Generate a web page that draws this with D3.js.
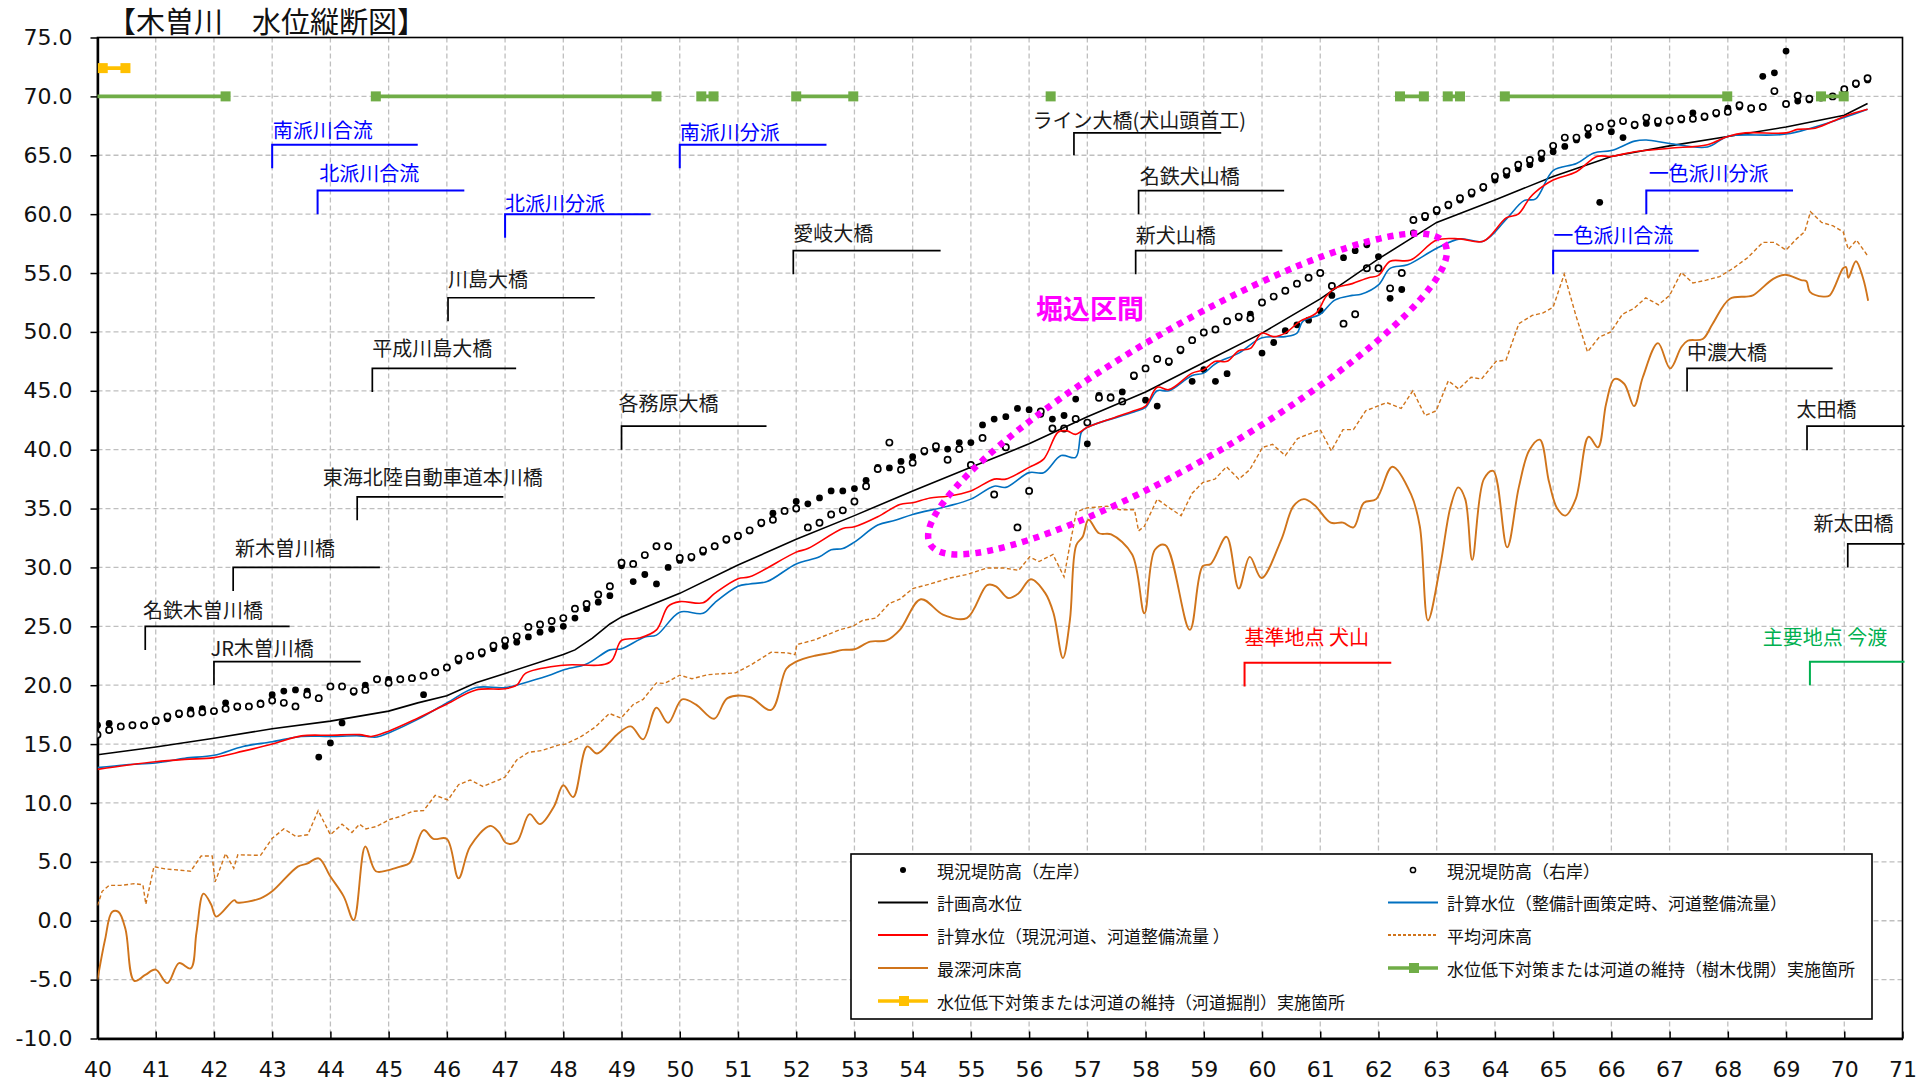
<!DOCTYPE html>
<html lang="ja">
<head>
<meta charset="utf-8">
<title>木曽川 水位縦断図</title>
<script src="https://cdn.jsdelivr.net/npm/d3@7"></script>
<style>
  html, body { margin: 0; padding: 0; background: #fff; }
  svg { display: block; font-family: "Noto Sans CJK JP", "Noto Sans", sans-serif; }
</style>
</head>
<body>
<svg id="chart" width="1921" height="1085"></svg>
<script>
// ---------------- data (distance km, elevation T.P.m) ----------------
const xTicks = d3.range(40, 72, 1);
const yTicks = d3.range(-10, 80, 5);

// 現況堤防高（左岸）
const leftBank = [
  [40.0,16.6],[40.2,16.75],[40.4,16.5],[40.6,16.6],[40.8,16.6],[41.0,16.9],[41.2,17.15],[41.4,17.5],[41.6,17.9],[41.8,18.0],
  [42.0,17.8],[42.2,18.5],[42.4,18.1],[42.6,18.2],[42.8,18.5],[43.0,19.2],[43.2,19.5],[43.4,19.6],[43.6,19.5],[43.8,13.9],
  [44.0,15.1],[44.2,16.8],[44.4,19.4],[44.6,20.0],[44.8,20.5],[45.0,20.5],[45.2,20.5],[45.4,20.6],[45.6,19.2],[45.8,21.1],
  [46.0,21.5],[46.2,22.05],[46.4,22.45],[46.6,22.65],[46.8,23.1],[47.0,23.3],[47.2,23.65],[47.4,24.1],[47.6,24.5],[47.8,24.75],
  [48.0,25.0],[48.2,25.7],[48.4,26.5],[48.6,27.05],[48.8,27.6],[49.0,30.15],[49.2,28.8],[49.4,29.4],[49.6,28.6],[49.8,30.0],
  [50.0,30.6],[50.2,30.8],[50.4,31.3],[50.6,31.8],[50.8,32.3],[51.0,32.6],[51.2,33.1],[51.4,33.7],[51.6,34.6],[51.8,34.8],
  [52.0,35.6],[52.2,35.4],[52.4,35.9],[52.6,36.5],[52.8,36.5],[53.0,36.7],[53.2,37.4],[53.4,38.5],[53.6,38.45],[53.8,39.0],
  [54.0,39.4],[54.2,39.8],[54.4,40.05],[54.6,40.05],[54.8,40.6],[55.0,40.6],[55.2,42.1],[55.4,42.6],[55.6,42.8],[55.8,43.5],
  [56.0,43.4],[56.2,43.0],[56.4,42.6],[56.6,42.9],[56.8,44.3],[57.0,40.5],[57.2,44.6],[57.4,44.5],[57.6,44.9],[57.8,46.2],
  [58.0,44.2],[58.2,43.7],[58.4,47.4],[58.6,48.4],[58.8,45.8],[59.0,46.8],[59.2,45.8],[59.4,46.45],[59.6,51.2],[59.8,51.5],
  [60.0,48.2],[60.2,49.1],[60.4,50.1],[60.6,50.6],[60.8,51.0],[61.0,51.8],[61.2,53.1],[61.4,56.3],[61.6,56.9],[61.8,57.4],
  [62.0,56.4],[62.2,52.85],[62.4,53.6],[62.6,58.4],[62.8,59.7],[63.0,60.2],[63.2,60.7],[63.4,61.2],[63.6,61.7],[63.8,62.2],
  [64.0,62.9],[64.2,63.3],[64.4,63.85],[64.6,64.2],[64.8,64.7],[65.0,65.3],[65.2,65.75],[65.4,66.3],[65.6,66.7],[65.8,61.0],
  [66.0,67.0],[66.2,66.5],[66.4,67.5],[66.6,67.7],[66.8,67.7],[67.0,67.9],[67.2,68.0],[67.4,68.6],[67.6,68.2],[67.8,68.5],
  [68.0,69.0],[68.2,69.1],[68.4,68.9],[68.6,71.7],[68.8,72.0],[69.0,73.85],[69.2,69.6],[69.4,69.7],[69.6,69.9],[69.8,70.0],
  [70.0,70.5],[70.2,71.0],[70.4,71.4]
];

// 現況堤防高（右岸）
const rightBank = [
  [40.0,15.8],[40.2,16.2],[40.4,16.5],[40.6,16.6],[40.8,16.6],[41.0,17.0],[41.2,17.35],[41.4,17.6],[41.6,17.6],[41.8,17.7],
  [42.0,17.8],[42.2,18.0],[42.4,18.2],[42.6,18.2],[42.8,18.4],[43.0,18.7],[43.2,18.5],[43.4,18.2],[43.6,19.2],[43.8,18.9],
  [44.0,19.9],[44.2,19.9],[44.4,19.5],[44.6,19.6],[44.8,20.5],[45.0,20.2],[45.2,20.5],[45.4,20.6],[45.6,20.8],[45.8,21.1],
  [46.0,21.5],[46.2,22.25],[46.4,22.5],[46.6,22.8],[46.8,23.35],[47.0,23.8],[47.2,24.15],[47.4,24.95],[47.6,25.15],[47.8,25.45],
  [48.0,25.7],[48.2,26.5],[48.4,26.9],[48.6,27.7],[48.8,28.4],[49.0,30.4],[49.2,30.3],[49.4,31.05],[49.6,31.8],[49.8,31.8],
  [50.0,30.8],[50.2,30.9],[50.4,31.45],[50.6,31.8],[50.8,32.4],[51.0,32.7],[51.2,33.15],[51.4,33.8],[51.6,34.05],[51.8,34.8],
  [52.0,35.0],[52.2,33.4],[52.4,33.8],[52.6,34.5],[52.8,34.85],[53.0,35.6],[53.2,36.9],[53.4,38.35],[53.6,40.6],[53.8,38.3],
  [54.0,38.9],[54.2,39.9],[54.4,40.3],[54.6,39.15],[54.8,40.05],[55.0,38.7],[55.2,41.0],[55.4,36.2],[55.6,40.2],[55.8,33.4],
  [56.0,36.5],[56.2,43.25],[56.4,41.8],[56.6,41.8],[56.8,42.6],[57.0,42.3],[57.2,44.4],[57.4,44.4],[57.6,44.1],[57.8,46.3],
  [58.0,46.9],[58.2,47.7],[58.4,47.5],[58.6,48.5],[58.8,49.3],[59.0,49.95],[59.2,50.2],[59.4,50.9],[59.6,51.3],[59.8,51.15],
  [60.0,52.5],[60.2,53.0],[60.4,53.5],[60.6,54.1],[60.8,54.6],[61.0,55.0],[61.2,53.9],[61.4,50.7],[61.6,51.5],[61.8,55.4],
  [62.0,55.4],[62.2,53.7],[62.4,55.0],[62.6,59.5],[62.8,59.85],[63.0,60.35],[63.2,60.8],[63.4,61.35],[63.6,61.85],[63.8,62.3],
  [64.0,63.2],[64.2,63.65],[64.4,64.2],[64.6,64.6],[64.8,65.15],[65.0,65.8],[65.2,66.5],[65.4,66.5],[65.6,67.3],[65.8,67.4],
  [66.0,67.7],[66.2,67.9],[66.4,67.6],[66.6,68.2],[66.8,67.9],[67.0,67.95],[67.2,68.1],[67.4,68.1],[67.6,68.3],[67.8,68.6],
  [68.0,68.7],[68.2,69.25],[68.4,69.0],[68.6,69.1],[68.8,70.45],[69.0,69.35],[69.2,70.05],[69.4,69.8],[69.6,69.9],[69.8,70.0],
  [70.0,70.6],[70.2,71.1],[70.4,71.55]
];

// 計画高水位
const planHWL = [
  [40,14.1],[41,14.75],[42,15.5],[43,16.3],[44,16.95],[45,17.8],[45.5,18.5],[46,19.1],[46.5,20.2],[47,21.0],
  [48,22.6],[48.2,23.0],[48.5,24.0],[48.8,25.2],[49,25.8],[50,27.8],[51,30.2],[52,32.4],[53,34.4],[54,36.5],
  [55,38.5],[56,40.5],[57,42.8],[58,44.9],[59,47.4],[60,49.9],[61,52.8],[62,56.2],[63,59.3],[64,61.2],
  [65,63.2],[66,64.9],[67,65.8],[68,66.6],[69,67.4],[70,68.4],[70.4,69.4]
];

// 計算水位（整備計画策定時、河道整備流量）
const calcPlanWL = [
  [40.0,13.0],[40.5,13.25],[41.0,13.4],[41.5,13.8],[42.0,14.05],[42.5,14.8],[43.0,15.2],[43.5,15.65],[44.0,15.65],[44.5,15.7],
  [44.8,15.6],[45.0,15.95],[45.5,17.1],[46.0,18.5],[46.5,19.8],[47.0,19.8],[47.4,20.3],[47.8,20.9],[48.0,21.3],[48.4,21.8],
  [48.8,23.0],[49.0,23.1],[49.4,24.1],[49.6,24.25],[50.0,26.2],[50.4,26.1],[50.6,27.0],[51.0,28.4],[51.2,28.6],[51.5,28.8],
  [52.0,30.3],[52.4,30.9],[52.6,31.5],[52.8,31.6],[53.0,32.15],[53.4,33.6],[53.7,34.0],[54.0,34.5],[54.6,35.2],[55.0,35.8],
  [55.4,36.9],[55.6,36.8],[56.0,38.05],[56.25,38.05],[56.55,39.5],[56.8,39.35],[56.9,41.5],[57.0,41.9],[57.8,43.2],[58.0,43.6],
  [58.2,45.0],[58.4,45.0],[58.8,46.3],[59.0,46.5],[59.2,47.3],[59.6,48.2],[60.0,49.5],[60.4,49.6],[60.6,49.9],[60.7,50.9],
  [61.0,51.5],[61.25,52.7],[61.55,53.1],[61.7,53.2],[62.0,54.0],[62.2,55.4],[62.5,55.7],[63.0,57.1],[63.4,57.9],[63.8,57.7],
  [64.2,59.6],[64.5,61.15],[64.7,61.3],[65.0,63.7],[65.4,64.3],[65.7,65.2],[66.0,65.4],[66.4,66.2],[66.6,66.3],[67.0,66.0],
  [67.65,65.7],[68.0,66.6],[69.0,66.8],[70.0,68.2],[70.4,68.9]
];

// 計算水位（現況河道、河道整備流量）
const calcNowWL = [
  [40.0,12.85],[40.5,13.2],[41.0,13.5],[41.5,13.7],[42.0,13.85],[42.5,14.4],[43.0,15.0],[43.5,15.7],[44.0,15.75],[44.5,15.8],
  [44.7,15.65],[45.0,16.1],[45.5,17.2],[46.0,18.4],[46.5,19.6],[47.0,19.7],[47.2,20.0],[47.35,21.0],[48.0,21.7],[48.8,21.95],
  [49.0,23.8],[49.3,24.0],[49.6,24.7],[49.8,26.7],[50.0,27.1],[50.4,27.0],[50.6,27.8],[51.0,29.05],[51.2,29.2],[52.0,31.3],
  [52.2,31.6],[52.8,33.3],[53.0,33.45],[53.4,34.3],[53.78,35.35],[54.0,35.5],[54.3,35.9],[54.6,36.05],[55.0,36.5],[55.4,37.5],
  [55.6,37.5],[56.0,38.5],[56.25,39.2],[56.5,41.5],[56.65,41.6],[56.8,41.3],[57.0,41.9],[57.45,42.7],[57.8,43.3],[58.0,43.7],
  [58.2,45.3],[58.4,45.1],[58.8,46.5],[59.0,46.8],[59.2,47.5],[59.4,47.5],[59.6,48.4],[59.8,48.6],[60.0,49.9],[60.2,49.6],
  [60.4,49.9],[60.65,50.9],[60.93,51.6],[61.1,53.0],[61.25,53.7],[61.55,54.1],[61.83,54.6],[62.0,54.8],[62.2,56.0],[62.55,56.1],
  [63.0,57.8],[63.4,57.9],[63.8,57.7],[64.2,59.7],[64.4,60.0],[64.6,61.4],[64.7,61.9],[65.0,62.9],[65.4,63.6],[65.75,64.9],
  [66.0,64.9],[66.4,65.3],[67.0,65.6],[67.65,65.9],[68.0,66.6],[68.3,66.9],[69.0,66.9],[69.2,67.2],[69.5,67.3],[70.0,68.3],
  [70.4,68.9]
];

// 平均河床高
const meanBed = [
  [40.0,1.3],[40.08,2.5],[40.2,3.0],[40.4,3.0],[40.63,3.15],[40.78,3.05],[40.83,1.4],[40.97,4.6],[41.16,4.4],[41.4,4.3],
  [41.6,4.2],[41.78,5.5],[41.97,5.5],[42.02,3.3],[42.2,5.7],[42.34,4.45],[42.41,5.6],[42.8,5.55],[43.0,7.0],[43.2,7.8],
  [43.41,7.15],[43.61,7.3],[43.79,9.35],[44.0,7.3],[44.2,8.2],[44.37,7.5],[44.5,8.2],[44.61,7.8],[44.79,8.0],[45.02,8.6],
  [45.2,8.85],[45.42,9.3],[45.6,9.35],[45.8,10.65],[46.02,10.25],[46.2,11.55],[46.4,11.95],[46.62,11.4],[46.89,11.95],[47.0,12.2],
  [47.2,13.65],[47.4,14.3],[47.63,14.45],[47.94,14.95],[48.04,15.0],[48.31,15.65],[48.55,16.45],[48.79,17.6],[48.99,17.2],[49.2,18.35],
  [49.37,18.8],[49.6,20.2],[49.74,20.15],[50.0,20.85],[50.21,20.55],[50.49,20.9],[50.96,21.05],[51.23,21.75],[51.57,22.8],[51.84,22.75],
  [51.98,22.6],[52.01,23.45],[52.32,23.85],[52.74,24.7],[52.97,25.0],[53.14,25.5],[53.37,25.7],[53.6,26.95],[53.78,27.3],[54.0,28.2],
  [54.3,28.6],[54.64,29.1],[54.93,29.4],[55.28,29.95],[55.57,29.95],[55.82,29.75],[56.01,30.9],[56.17,30.5],[56.41,31.1],[56.6,29.2],
  [56.7,31.9],[56.81,34.7],[56.99,35.05],[57.34,35.2],[57.56,34.9],[57.81,34.9],[57.88,33.1],[57.98,33.5],[58.2,35.8],[58.41,35.05],
  [58.61,34.4],[58.8,36.3],[58.98,37.2],[59.19,37.5],[59.39,38.55],[59.6,37.5],[59.79,38.3],[60.01,40.2],[60.18,40.45],[60.4,39.5],
  [60.61,40.95],[61.0,41.7],[61.19,39.9],[61.39,41.7],[61.57,41.7],[61.78,43.3],[62.14,44.0],[62.39,43.5],[62.59,45.0],[62.8,42.9],
  [62.99,43.3],[63.2,45.85],[63.38,45.15],[63.59,46.15],[63.77,46.0],[64.02,47.5],[64.19,47.6],[64.41,50.7],[64.64,51.4],[64.82,51.6],
  [65.0,52.1],[65.19,54.9],[65.39,51.4],[65.59,48.3],[65.79,49.55],[65.99,50.0],[66.19,51.5],[66.39,52.0],[66.59,52.9],[66.81,52.3],
  [67.0,53.1],[67.2,55.05],[67.4,54.15],[67.63,54.4],[67.86,54.7],[68.09,55.4],[68.34,56.3],[68.6,57.6],[68.8,57.6],[69.0,56.95],
  [69.18,57.9],[69.32,58.5],[69.42,60.2],[69.61,59.3],[69.81,59.0],[69.98,58.5],[70.07,57.0],[70.21,57.8],[70.41,56.4]
];

// 最深河床高
const deepestBed = [
  [40.0,-5.0],[40.13,-1.6],[40.25,0.75],[40.36,0.75],[40.48,-0.7],[40.63,-5.1],[40.82,-4.6],[41.0,-4.15],[41.2,-5.3],[41.4,-3.6],
  [41.6,-4.05],[41.7,-1.0],[41.82,2.3],[41.95,1.4],[42.04,0.35],[42.35,1.75],[42.4,1.55],[42.8,1.9],[43.0,2.5],[43.44,4.6],
  [43.6,4.85],[43.8,5.3],[44.0,3.75],[44.23,2.05],[44.4,0.05],[44.6,6.3],[44.78,4.2],[45.0,4.3],[45.2,4.6],[45.36,4.9],
  [45.6,7.7],[45.77,6.95],[46.0,6.95],[46.2,3.6],[46.4,6.3],[46.74,8.05],[46.89,7.55],[47.02,6.6],[47.2,6.7],[47.42,9.05],
  [47.6,8.2],[47.84,9.7],[48.0,11.5],[48.17,10.5],[48.41,14.8],[48.58,14.2],[48.92,15.8],[49.16,16.5],[49.37,15.4],[49.6,18.1],
  [49.8,16.8],[50.04,18.8],[50.28,18.35],[50.59,17.15],[50.82,18.9],[51.2,19.0],[51.57,17.9],[51.83,21.4],[52.0,22.0],[52.32,22.5],
  [52.59,22.75],[52.8,23.0],[53.0,23.05],[53.27,23.7],[53.55,23.8],[53.78,24.7],[54.14,27.3],[54.52,26.0],[54.93,25.7],[55.28,28.5],
  [55.43,28.4],[55.64,27.4],[55.82,27.8],[56.03,29.0],[56.28,27.8],[56.42,26.1],[56.58,22.3],[56.7,25.5],[56.81,31.9],[56.92,32.6],
  [57.02,34.05],[57.2,32.9],[57.41,32.8],[57.77,31.1],[57.98,26.1],[58.16,31.5],[58.34,31.9],[58.76,24.7],[58.98,30.1],[59.12,30.3],
  [59.39,32.6],[59.6,28.2],[59.79,30.9],[59.99,29.1],[60.33,32.35],[60.54,35.2],[60.72,35.8],[60.9,35.3],[61.18,33.8],[61.39,33.8],
  [61.57,33.4],[61.75,35.5],[61.96,35.8],[62.24,38.55],[62.56,36.2],[62.71,33.5],[62.85,25.5],[63.06,30.1],[63.24,35.2],[63.37,36.8],
  [63.49,35.8],[63.61,30.65],[63.81,37.5],[63.97,38.2],[64.21,31.7],[64.41,36.8],[64.59,39.95],[64.77,40.85],[64.93,37.25],[65.07,35.0],
  [65.21,34.4],[65.39,35.85],[65.61,41.1],[65.77,40.2],[65.91,43.9],[66.05,46.0],[66.22,45.6],[66.39,43.7],[66.54,46.15],[66.8,49.05],
  [67.01,46.9],[67.2,48.7],[67.31,49.25],[67.57,49.4],[67.74,50.7],[68.03,52.8],[68.32,53.0],[68.43,53.1],[68.78,54.5],[68.98,54.85],
  [69.26,54.4],[69.35,54.3],[69.41,53.4],[69.64,53.0],[69.75,53.1],[69.98,55.4],[70.03,55.5],[70.07,54.6],[70.2,56.0],[70.32,54.6],
  [70.41,52.65]
];

// 水位低下対策または河道の維持 実施箇所（区間 km）
const clearingSites = [[39.8,42.2],[44.78,49.6],[50.37,50.58],[52.0,52.98],[56.37,56.37],[62.37,62.78],[63.19,63.4],[64.17,67.99],[69.6,69.99]];
const clearingLevel = 70.0;
const excavationSites = [[40.09,40.48]];
const excavationLevel = 72.4;

// 地点名（引出線つき）
const landmarks = [
  { name: "南派川合流", kind: "branch", textKm: 43.01, textLv: 67.2, km: 43.0, top: 65.9, bottom: 63.9, end: 45.5 },
  { name: "北派川合流", kind: "branch", textKm: 43.81, textLv: 63.5, km: 43.78, top: 62.0, bottom: 60.0, end: 46.3 },
  { name: "北派川分派", kind: "branch", textKm: 47.0, textLv: 61.0, km: 47.0, top: 60.0, bottom: 58.0, end: 49.5 },
  { name: "南派川分派", kind: "branch", textKm: 50.0, textLv: 67.0, km: 50.0, top: 65.9, bottom: 63.9, end: 52.52 },
  { name: "ライン大橋(犬山頭首工)", kind: "bridge", textKm: 56.06, textLv: 68.05, km: 56.77, top: 66.9, bottom: 65.0, end: 59.3 },
  { name: "名鉄犬山橋", kind: "bridge", textKm: 57.9, textLv: 63.3, km: 57.88, top: 62.0, bottom: 60.0, end: 60.38 },
  { name: "新犬山橋", kind: "bridge", textKm: 57.83, textLv: 58.3, km: 57.83, top: 56.9, bottom: 54.9, end: 60.35 },
  { name: "愛岐大橋", kind: "bridge", textKm: 51.95, textLv: 58.4, km: 51.95, top: 56.9, bottom: 54.9, end: 54.48 },
  { name: "川島大橋", kind: "bridge", textKm: 46.02, textLv: 54.5, km: 46.02, top: 52.9, bottom: 50.9, end: 48.54 },
  { name: "平成川島大橋", kind: "bridge", textKm: 44.72, textLv: 48.7, km: 44.72, top: 46.9, bottom: 44.9, end: 47.19 },
  { name: "各務原大橋", kind: "bridge", textKm: 48.95, textLv: 44.0, km: 49.0, top: 42.0, bottom: 40.0, end: 51.49 },
  { name: "東海北陸自動車道本川橋", kind: "bridge", textKm: 43.87, textLv: 37.7, km: 44.46, top: 36.0, bottom: 34.0, end: 46.97 },
  { name: "新木曽川橋", kind: "bridge", textKm: 42.36, textLv: 31.7, km: 42.33, top: 30.0, bottom: 28.0, end: 44.85 },
  { name: "名鉄木曽川橋", kind: "bridge", textKm: 40.78, textLv: 26.4, km: 40.82, top: 25.0, bottom: 23.0, end: 43.3 },
  { name: "JR木曽川橋", kind: "bridge", textKm: 41.94, textLv: 23.2, km: 42.0, top: 22.0, bottom: 20.0, end: 44.52 },
  { name: "基準地点 犬山", kind: "reference", textKm: 59.7, textLv: 24.1, km: 59.7, top: 21.9, bottom: 19.9, end: 62.22 },
  { name: "一色派川合流", kind: "branch", textKm: 65.0, textLv: 58.3, km: 65.0, top: 56.9, bottom: 54.9, end: 67.5 },
  { name: "一色派川分派", kind: "branch", textKm: 66.64, textLv: 63.5, km: 66.6, top: 62.0, bottom: 60.0, end: 69.12 },
  { name: "中濃大橋", kind: "bridge", textKm: 67.3, textLv: 48.35, km: 67.3, top: 46.9, bottom: 44.95, end: 69.8 },
  { name: "太田橋", kind: "bridge", textKm: 69.18, textLv: 43.5, km: 69.36, top: 42.0, bottom: 39.95, end: 71.05 },
  { name: "新太田橋", kind: "bridge", textKm: 69.47, textLv: 33.8, km: 70.06, top: 32.0, bottom: 30.0, end: 71.05 },
  { name: "主要地点 今渡", kind: "main", textKm: 68.6, textLv: 24.1, km: 69.41, top: 22.0, bottom: 20.0, end: 71.05 }
];

// 堀込区間（中心 km, 標高）
const diggedSection = { label: "堀込区間", km: 58.72, lv: 44.73, labelKm: 56.12, labelLv: 52.1 };

// ---------------- drawing ----------------
const W = 1921, H = 1085;
const FONT = '"Noto Sans CJK JP", "Noto Sans", sans-serif';
const NUM_FONT = '"DejaVu Sans", "Noto Sans", sans-serif';
const colors = {
  plan: "#000000", calcPlan: "#0070C0", calcNow: "#FF0000", bed: "#D0741B",
  clearing: "#70AD47", excavation: "#FFC000", dig: "#FF00FF",
  branch: "#0000FF", bridge: "#000000", reference: "#FF0000", main: "#00B050"
};

const svg = d3.select("#chart");
svg.append("rect").attr("width", W).attr("height", H).attr("fill", "#fff");

const x = d3.scaleLinear().domain([40, 71]).range([97.5, 1902.5]);
const y = d3.scaleLinear().domain([-10, 75]).range([1038.5, 37.5]);

svg.append("defs").append("clipPath").attr("id", "plot-clip")
  .append("rect")
  .attr("x", x(40)).attr("y", y(75))
  .attr("width", x(71) - x(40)).attr("height", y(-10) - y(75));

// grid
const grid = svg.append("g").attr("stroke", "#bfbfbf").attr("stroke-width", 1.3).attr("stroke-dasharray", "5 3");
grid.selectAll("line.gx").data(xTicks.filter(k => k > 40 && k < 71)).join("line").attr("class", "gx")
  .attr("x1", d => x(d)).attr("x2", d => x(d)).attr("y1", y(75)).attr("y2", y(-10));
grid.selectAll("line.gy").data(yTicks.filter(v => v > -10 && v < 75)).join("line").attr("class", "gy")
  .attr("x1", x(40)).attr("x2", x(71)).attr("y1", d => y(d)).attr("y2", d => y(d));

// plot frame (top / right)
svg.append("rect").attr("x", x(40)).attr("y", y(75)).attr("width", x(71) - x(40)).attr("height", y(-10) - y(75))
  .attr("fill", "none").attr("stroke", "#000").attr("stroke-width", 1.6);

// axes
const yAxis = d3.axisLeft(y).tickValues(yTicks).tickFormat(d => d.toFixed(1))
  .tickSizeInner(7).tickSizeOuter(0).tickPadding(18);
svg.append("g").attr("transform", `translate(${x(40)},0)`).call(yAxis)
  .call(g => g.select(".domain").attr("stroke", "#000").attr("stroke-width", 2.4))
  .call(g => g.selectAll(".tick line").attr("stroke", "#000").attr("stroke-width", 1.5))
  .call(g => g.selectAll(".tick text").attr("font-family", NUM_FONT).attr("font-size", 22).attr("fill", "#111"));

const xAxis = d3.axisBottom(x).tickValues(xTicks).tickFormat(d3.format("d"))
  .tickSizeInner(-7).tickSizeOuter(0).tickPadding(23);
svg.append("g").attr("transform", `translate(0,${y(-10)})`).call(xAxis)
  .call(g => g.select(".domain").attr("stroke", "#000").attr("stroke-width", 2.4))
  .call(g => g.selectAll(".tick line").attr("stroke", "#000").attr("stroke-width", 1.5))
  .call(g => g.selectAll(".tick text").attr("font-family", NUM_FONT).attr("font-size", 22).attr("fill", "#111"));

// title
svg.append("text").attr("x", 107).attr("y", 33).attr("font-family", FONT).attr("font-size", 29)
  .attr("fill", "#111").text("【木曽川　水位縦断図】");

const plot = svg.append("g").attr("clip-path", "url(#plot-clip)");

// levee heights
plot.append("g").selectAll("circle").data(leftBank).join("circle")
  .attr("cx", d => x(d[0])).attr("cy", d => y(d[1])).attr("r", 3.4).attr("fill", "#000");
plot.append("g").selectAll("circle").data(rightBank).join("circle")
  .attr("cx", d => x(d[0])).attr("cy", d => y(d[1])).attr("r", 3.1)
  .attr("fill", "#fff").attr("stroke", "#000").attr("stroke-width", 1.7);

const lineLinear = d3.line().x(d => x(d[0])).y(d => y(d[1]));
const lineSmooth = d3.line().x(d => x(d[0])).y(d => y(d[1])).curve(d3.curveCatmullRom.alpha(0.5));

plot.append("path").datum(planHWL).attr("d", lineLinear).attr("fill", "none")
  .attr("stroke", colors.plan).attr("stroke-width", 1.6);
plot.append("path").datum(calcPlanWL).attr("d", lineSmooth).attr("fill", "none")
  .attr("stroke", colors.calcPlan).attr("stroke-width", 1.6);
plot.append("path").datum(calcNowWL).attr("d", lineSmooth).attr("fill", "none")
  .attr("stroke", colors.calcNow).attr("stroke-width", 1.6);
plot.append("path").datum(meanBed).attr("d", lineLinear).attr("fill", "none")
  .attr("stroke", colors.bed).attr("stroke-width", 1.4).attr("stroke-dasharray", "4 2.5");
plot.append("path").datum(deepestBed).attr("d", lineSmooth).attr("fill", "none")
  .attr("stroke", colors.bed).attr("stroke-width", 1.9);

// work sites
function drawSites(sites, level, color) {
  const g = plot.append("g");
  g.selectAll("line").data(sites).join("line")
    .attr("x1", d => x(d[0])).attr("x2", d => x(d[1]))
    .attr("y1", y(level)).attr("y2", y(level))
    .attr("stroke", color).attr("stroke-width", 3.6);
  g.selectAll("rect").data(sites.flatMap(d => d[0] === d[1] ? [d[0]] : d)).join("rect")
    .attr("x", d => x(d) - 5).attr("y", y(level) - 5).attr("width", 10).attr("height", 10)
    .attr("fill", color);
}
drawSites(clearingSites, clearingLevel, colors.clearing);
drawSites(excavationSites, excavationLevel, colors.excavation);

// landmark leaders
const lm = svg.append("g");
landmarks.forEach(d => {
  const c = colors[d.kind];
  lm.append("path")
    .attr("d", `M${x(d.km)},${y(d.bottom)}V${y(d.top)}H${Math.min(x(d.end), x(71) + 2)}`)
    .attr("fill", "none").attr("stroke", c).attr("stroke-width", d.kind === "bridge" ? 1.7 : 2);
  lm.append("text").attr("x", x(d.textKm)).attr("y", y(d.textLv))
    .attr("dominant-baseline", "central").attr("font-family", FONT).attr("font-size", 20)
    .attr("fill", c === "#000000" ? "#1a1a1a" : c).text(d.name);
});

// 堀込区間 outline
const cx = x(diggedSection.km), cy = y(diggedSection.lv);
svg.append("ellipse").attr("cx", 0).attr("cy", 0).attr("rx", 298).attr("ry", 65)
  .attr("transform", `translate(${cx},${cy}) rotate(-30.3)`)
  .attr("fill", "none").attr("stroke", colors.dig).attr("stroke-width", 6.5).attr("stroke-dasharray", "6 6");
svg.append("text").attr("x", x(diggedSection.labelKm)).attr("y", y(diggedSection.labelLv))
  .attr("dominant-baseline", "central").attr("font-family", FONT).attr("font-size", 27)
  .attr("font-weight", 700).attr("fill", colors.dig).text(diggedSection.label);

// legend
const legendItems = [
  { label: "現況堤防高（左岸）", type: "dot" },
  { label: "現況堤防高（右岸）", type: "ring" },
  { label: "計画高水位", type: "line", color: colors.plan },
  { label: "計算水位（整備計画策定時、河道整備流量）", type: "line", color: colors.calcPlan },
  { label: "計算水位（現況河道、河道整備流量 ）", type: "line", color: colors.calcNow },
  { label: "平均河床高", type: "dash", color: colors.bed },
  { label: "最深河床高", type: "line", color: colors.bed },
  { label: "水位低下対策または河道の維持（樹木伐開）実施箇所", type: "site", color: colors.clearing },
  { label: "水位低下対策または河道の維持（河道掘削）実施箇所", type: "site", color: colors.excavation }
];
const legend = svg.append("g");
legend.append("rect").attr("x", 851).attr("y", 854).attr("width", 1021).attr("height", 165)
  .attr("fill", "#fff").attr("stroke", "#000").attr("stroke-width", 1.6);
const colX = [878, 1388], rowY = [870, 902.5, 935, 968, 1001];
legendItems.forEach((d, i) => {
  const sx = colX[i % 2], sy = rowY[Math.floor(i / 2)];
  const g = legend.append("g");
  if (d.type === "dot") {
    g.append("circle").attr("cx", sx + 25).attr("cy", sy).attr("r", 3).attr("fill", "#000");
  } else if (d.type === "ring") {
    g.append("circle").attr("cx", sx + 25).attr("cy", sy).attr("r", 2.6).attr("fill", "#fff")
      .attr("stroke", "#000").attr("stroke-width", 1.5);
  } else if (d.type === "site") {
    g.append("line").attr("x1", sx).attr("x2", sx + 50).attr("y1", sy).attr("y2", sy)
      .attr("stroke", d.color).attr("stroke-width", 3.6);
    g.append("rect").attr("x", sx + 21).attr("y", sy - 5).attr("width", 10).attr("height", 10).attr("fill", d.color);
  } else {
    g.append("line").attr("x1", sx).attr("x2", sx + 50).attr("y1", sy).attr("y2", sy)
      .attr("stroke", d.color).attr("stroke-width", 1.8)
      .attr("stroke-dasharray", d.type === "dash" ? "3 2" : null);
  }
  g.append("text").attr("x", sx + 59).attr("y", sy).attr("dominant-baseline", "central")
    .attr("font-family", FONT).attr("font-size", 17).attr("fill", "#111").text(d.label);
});
</script>
</body>
</html>
